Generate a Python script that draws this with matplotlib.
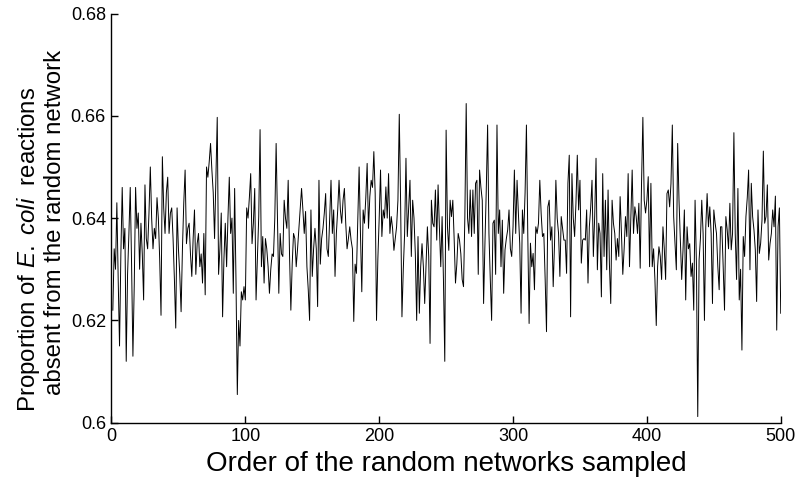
import matplotlib
matplotlib.use("Agg")
import matplotlib.pyplot as plt

plt.rcParams['font.family'] = ['Liberation Sans', 'DejaVu Sans']
plt.rcParams['mathtext.fontset'] = 'custom'
plt.rcParams['mathtext.rm'] = 'Liberation Sans'
plt.rcParams['mathtext.it'] = 'Liberation Sans:italic'

proportion = [
    0.622, 0.634, 0.630, 0.643, 0.628, 0.615, 0.633, 0.646, 0.634, 0.638,
    0.612, 0.629, 0.637, 0.646, 0.631, 0.613, 0.627, 0.646, 0.638, 0.641,
    0.630, 0.639, 0.633, 0.624, 0.6465, 0.636, 0.634, 0.641, 0.650, 0.640,
    0.634, 0.638, 0.636, 0.644, 0.640, 0.632, 0.621, 0.652, 0.642, 0.637,
    0.645, 0.648, 0.637, 0.641, 0.642, 0.636, 0.628, 0.6185, 0.642, 0.634,
    0.629, 0.6217, 0.634, 0.643, 0.6494, 0.635, 0.638, 0.639, 0.633, 0.6286,
    0.636, 0.6416, 0.629, 0.635, 0.637, 0.6305, 0.633, 0.6273, 0.637, 0.625,
    0.650, 0.648, 0.651, 0.6546, 0.6494, 0.645, 0.636, 0.648, 0.6597, 0.629,
    0.634, 0.641, 0.6207, 0.632, 0.639, 0.6305, 0.640, 0.648, 0.637, 0.640,
    0.6253, 0.6458, 0.628, 0.6055, 0.620, 0.615, 0.6256, 0.624, 0.6266, 0.624,
    0.642, 0.640, 0.644, 0.6487, 0.635, 0.639, 0.6458, 0.624, 0.632, 0.6403,
    0.6573, 0.6305, 0.6364, 0.6273, 0.636, 0.634, 0.6305, 0.6253, 0.630, 0.633,
    0.6325, 0.640, 0.6546, 0.640, 0.6253, 0.637, 0.633, 0.6325, 0.6435, 0.640,
    0.638, 0.6474, 0.633, 0.622, 0.631, 0.637, 0.636, 0.6305, 0.634, 0.638,
    0.642, 0.6458, 0.6416, 0.637, 0.6413, 0.6305, 0.626, 0.620, 0.6416, 0.6286,
    0.634, 0.638, 0.634, 0.6227, 0.6474, 0.631, 0.636, 0.638, 0.641, 0.6448,
    0.634, 0.6325, 0.640, 0.6474, 0.637, 0.6416, 0.6286, 0.637, 0.6416, 0.6474,
    0.6416, 0.639, 0.6435, 0.6458, 0.639, 0.634, 0.636, 0.6383, 0.6357, 0.634,
    0.6198, 0.631, 0.6292, 0.640, 0.650, 0.637, 0.6256, 0.6416, 0.639, 0.644,
    0.6507, 0.638, 0.6442, 0.6474, 0.646, 0.653, 0.6448, 0.620, 0.632, 0.640,
    0.6494, 0.6364, 0.6416, 0.640, 0.6461, 0.640, 0.6487, 0.637, 0.6403, 0.638,
    0.6337, 0.636, 0.6383, 0.6435, 0.6603, 0.643, 0.6207, 0.630, 0.637, 0.6517,
    0.6364, 0.642, 0.6474, 0.6325, 0.6435, 0.640, 0.633, 0.620, 0.6364, 0.6214,
    0.6305, 0.635, 0.6305, 0.6233, 0.631, 0.6383, 0.6325, 0.6155, 0.6435, 0.639,
    0.6383, 0.6455, 0.6357, 0.6465, 0.638, 0.6305, 0.6403, 0.628, 0.612, 0.6572,
    0.6383, 0.6337, 0.6435, 0.6403, 0.6435, 0.636, 0.6273, 0.631, 0.637, 0.6357,
    0.633, 0.628, 0.6266, 0.6403, 0.6624, 0.640, 0.637, 0.6455, 0.6364, 0.6455,
    0.637, 0.6468, 0.6474, 0.629, 0.6494, 0.646, 0.6435, 0.6233, 0.635, 0.6455,
    0.6582, 0.637, 0.628, 0.620, 0.639, 0.6396, 0.629, 0.6582, 0.637, 0.6416,
    0.6305, 0.6396, 0.6253, 0.6338, 0.636, 0.6377, 0.6416, 0.634, 0.6325, 0.6383,
    0.6494, 0.637, 0.6474, 0.6409, 0.635, 0.6214, 0.6416, 0.637, 0.645, 0.6582,
    0.637, 0.6194, 0.6351, 0.6305, 0.6331, 0.626, 0.6383, 0.637, 0.639, 0.6474,
    0.6409, 0.6364, 0.637, 0.628, 0.6178, 0.6422, 0.6435, 0.6357, 0.6383, 0.6266,
    0.635, 0.6474, 0.640, 0.637, 0.6286, 0.6403, 0.638, 0.6357, 0.6357, 0.6292,
    0.6468, 0.6523, 0.6207, 0.6487, 0.640, 0.6364, 0.6429, 0.6523, 0.6416, 0.6474,
    0.6312, 0.6357, 0.636, 0.6357, 0.6416, 0.6273, 0.6383, 0.642, 0.6474, 0.6325,
    0.6403, 0.6517, 0.6299, 0.639, 0.637, 0.6246, 0.6487, 0.6325, 0.6435, 0.6299,
    0.6455, 0.631, 0.6233, 0.6435, 0.639, 0.637, 0.6318, 0.636, 0.6325, 0.6442,
    0.637, 0.629, 0.634, 0.6403, 0.6364, 0.6487, 0.6305, 0.640, 0.6494, 0.637,
    0.6422, 0.6403, 0.637, 0.6429, 0.6302, 0.6468, 0.6597, 0.6435, 0.641, 0.6435,
    0.6481, 0.6305, 0.6468, 0.6305, 0.634, 0.628, 0.619, 0.6305, 0.6344, 0.6325,
    0.628, 0.6383, 0.634, 0.628, 0.6448, 0.6455, 0.6422, 0.6468, 0.6582, 0.6403,
    0.635, 0.6299, 0.6546, 0.6435, 0.636, 0.628, 0.6338, 0.6416, 0.624, 0.6383,
    0.634, 0.635, 0.6286, 0.6312, 0.622, 0.6435, 0.6312, 0.6012, 0.6318, 0.636,
    0.6435, 0.637, 0.620, 0.6383, 0.6448, 0.6383, 0.6422, 0.637, 0.6233, 0.6416,
    0.639, 0.637, 0.6305, 0.626, 0.6383, 0.6383, 0.6305, 0.622, 0.6403, 0.6377,
    0.634, 0.6429, 0.6338, 0.637, 0.6567, 0.637, 0.628, 0.6458, 0.624, 0.630,
    0.6142, 0.6364, 0.6325, 0.6403, 0.644, 0.6494, 0.6299, 0.6468, 0.6403, 0.6377,
    0.6338, 0.6237, 0.6416, 0.6331, 0.6351, 0.6396, 0.6531, 0.639, 0.6403, 0.6465,
    0.6318, 0.635, 0.637, 0.6416, 0.6383, 0.6443, 0.6181, 0.6383, 0.642, 0.6214,
]
order = list(range(1, len(proportion) + 1))

x_ticks = [0, 100, 200, 300, 400, 500]
y_ticks = [0.6, 0.62, 0.64, 0.66, 0.68]
y_tick_labels = ["0.6", "0.62", "0.64", "0.66", "0.68"]

W, H = 801, 479
fig = plt.figure(figsize=(W / 100, H / 100), dpi=100)
ax = fig.add_axes([0.1392, 0.1175, 0.8355, 0.8543])
ax.plot(order, proportion, color='black', linewidth=0.7)
ax.set_xlim(0, 500)
ax.set_ylim(0.6, 0.68)
ax.set_xticks(x_ticks)
ax.set_yticks(y_ticks)
ax.set_yticklabels(y_tick_labels)
ax.spines['top'].set_visible(False)
ax.spines['right'].set_visible(False)
for s in ('left', 'bottom'):
    ax.spines[s].set_linewidth(1.0)
ax.tick_params(direction='in', length=5, width=1.0, labelsize=13, pad=4)
ax.set_xlabel("Order of the random networks sampled", fontsize=20, labelpad=4)

fig.text(29 / W, 1 - 249 / H, "Proportion of $\\it{E.\\ coli}$  reactions",
         rotation=90, ha='center', va='center', fontsize=17.3)
fig.text(55 / W, 1 - 222 / H, "absent from the random network",
         rotation=90, ha='center', va='center', fontsize=17.3)
fig.savefig("out.png", dpi=100)
